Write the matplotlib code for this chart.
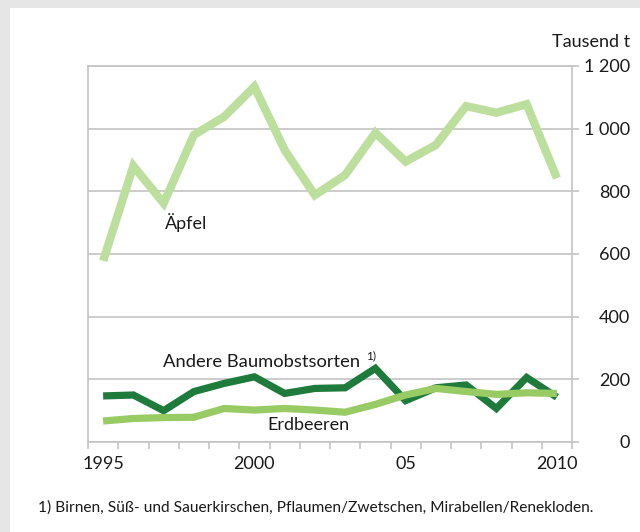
import matplotlib
matplotlib.use("Agg")
import matplotlib.pyplot as plt
from matplotlib.patches import Rectangle

# ==================================================
# DATA (Tausend t)
# ==================================================

years = list(range(1995, 2011))

aepfel = [578, 881, 762, 980, 1038, 1134, 932, 788, 852, 987,
          895, 948, 1072, 1051, 1078, 842]

andere = [147, 150, 100, 161, 187, 208, 155, 171, 173, 235,
          132, 173, 182, 107, 206, 143]

erdbeeren = [67, 75, 78, 79, 107, 102, 107, 102, 95, 120,
             150, 171, 161, 152, 157, 155]

y_ticks = [0, 200, 400, 600, 800, 1000, 1200]
y_labels = ["0", "200", "400", "600", "800", "1 000", "1 200"]

x_ticks = [1995, 2000, 2005, 2010]
x_labels = ["1995", "2000", "05", "2010"]

footnote = "1) Birnen, Süß- und Sauerkirschen, Pflaumen/Zwetschen, Mirabellen/Renekloden."

# ==================================================
# STYLE
# ==================================================

plt.rcParams["font.family"] = ["Lato", "DejaVu Sans"]

C_APFEL = "#bddf9e"
C_ERDBEER = "#98cb64"
C_ANDERE = "#1e7b3c"
C_GRID = "#c4c4c4"
C_TEXT = "#1a1a1a"

fig = plt.figure(figsize=(6.4, 5.32), dpi=100)
fig.patch.set_facecolor("#e6e6e6")
fig.patches.append(Rectangle((10 / 640, 0), 1, 1 - 8 / 532,
                             transform=fig.transFigure,
                             facecolor="white", edgecolor="none", zorder=-5))

ax = fig.add_axes([88 / 640, 1 - 442 / 532, 484 / 640, 376 / 532])
ax.set_facecolor("none")
ax.set_zorder(2)

# ==================================================
# LINES
# ==================================================

ax.plot(years, aepfel, color=C_APFEL, lw=6, solid_joinstyle="miter",
        solid_capstyle="butt", zorder=3)
ax.plot(years, andere, color=C_ANDERE, lw=5.2, solid_joinstyle="miter",
        solid_capstyle="butt", zorder=3)
ax.plot(years, erdbeeren, color=C_ERDBEER, lw=5.2, solid_joinstyle="miter",
        solid_capstyle="butt", zorder=4)

# ==================================================
# AXES
# ==================================================

ax.set_xlim(1994.5, 2010.5)
ax.set_ylim(0, 1200)

for s in ["left", "right", "bottom", "top"]:
    ax.spines[s].set_color(C_GRID)
    ax.spines[s].set_linewidth(1.2)

ax.yaxis.tick_right()
ax.set_yticks(y_ticks)
ax.set_yticklabels(y_labels)
ax.tick_params(axis="y", which="major", direction="out", length=5,
               width=1.2, color=C_GRID, labelsize=13, labelcolor=C_TEXT,
               pad=37)
for lab in ax.get_yticklabels():
    lab.set_horizontalalignment("right")

ax.grid(axis="y", color=C_GRID, lw=1.2, zorder=1)

ax.set_xticks(x_ticks)
ax.set_xticklabels(x_labels)
ax.set_xticks([y - 0.5 for y in years] + [years[-1] + 0.5], minor=True)
ax.tick_params(axis="x", which="major", length=0, labelsize=13,
               labelcolor=C_TEXT, pad=10)
ax.tick_params(axis="x", which="minor", direction="out", length=5,
               width=1.2, color=C_GRID)

# ==================================================
# LABELS
# ==================================================

ax.text(1997.05, 702, "Äpfel", fontsize=13, color=C_TEXT, va="center")
t = ax.text(1996.98, 255, "Andere Baumobstsorten", fontsize=13.2,
            color=C_TEXT, va="center")
ax.annotate("1)", xy=(1, 0.55), xycoords=t, xytext=(4, 0),
            textcoords="offset points", fontsize=8.5, color=C_TEXT,
            va="bottom")
ax.text(2001.8, 54, "Erdbeeren", fontsize=13, color=C_TEXT,
        va="center", ha="center")

fig.text(630 / 640, 1 - 42 / 532, "Tausend t", fontsize=13,
         color=C_TEXT, ha="right", va="center")
fig.text(38 / 640, 1 - 508 / 532, footnote, fontsize=11.2,
         color=C_TEXT, ha="left", va="center")

fig.savefig("out.png", dpi=100)
